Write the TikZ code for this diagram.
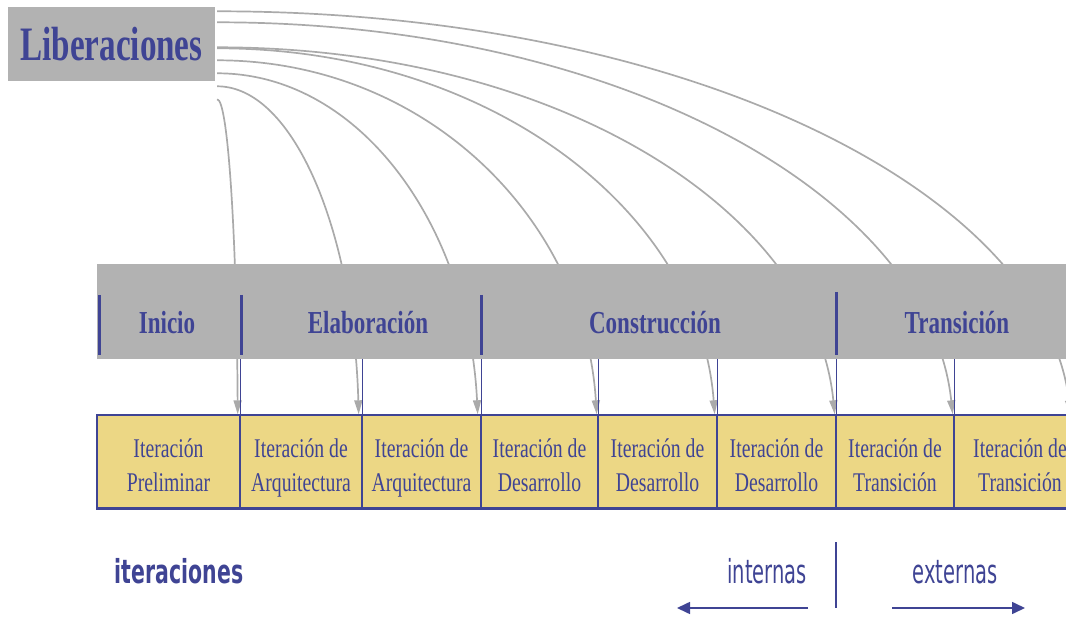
\documentclass[tikz,border=0pt]{standalone}
\usepackage{fontspec}
\usepackage{graphicx}
\setmainfont{Liberation Serif}
\newfontfamily\sansf{DejaVu Sans}
\usetikzlibrary{arrows.meta,calc}
\definecolor{cgray}{HTML}{B2B2B2}
\definecolor{cblue}{HTML}{3F4494}
\definecolor{cyel}{HTML}{ECD785}
\definecolor{cline}{HTML}{AAAAAA}
\newcommand{\nar}[2]{\scalebox{#1}[1]{#2}}
\begin{document}
\begin{tikzpicture}[x=1pt,y=-1pt,
  libbox/.style={fill=cgray, minimum width=207pt, minimum height=74pt, inner sep=0pt, text=cblue, font=\fontsize{48}{50}\selectfont\bfseries},
  phasebar/.style={fill=cgray, minimum width=983pt, minimum height=95pt, inner sep=0pt},
  phasetxt/.style={text=cblue, font=\fontsize{32}{34}\selectfont\bfseries, anchor=base, inner sep=0pt},
  itbox/.style={fill=cyel, draw=cblue, line width=1.4pt, minimum height=93pt, inner sep=0pt},
  ittxt/.style={text=cblue, font=\fontsize{27}{30}\selectfont, anchor=base, inner sep=0pt},
  rel/.style={draw=cline, line width=1.7pt, -{Triangle[length=14pt,width=8pt]}},
  thinblue/.style={draw=cblue, line width=1.3pt},
  sepline/.style={draw=cblue, line width=3pt},
  bot/.style={text=cblue, anchor=base, inner sep=0pt, font=\sansf\fontsize{33}{35}\selectfont},
  barrow/.style={draw=cblue, line width=1.6pt, -{Triangle[length=13pt,width=12pt]}}
]
\useasboundingbox (0,0) rectangle (1066,617);
\clip (0,0) rectangle (1066,617);

\node[libbox] (lib) at (111.5,44.5) {\nar{0.69}{Liberaciones}};

% iteration boxes
\node[itbox, minimum width=143pt] (b1) at (168.5,461.5) {};
\node[itbox, minimum width=122pt] (b2) at (301,461.5) {};
\node[itbox, minimum width=119pt] (b3) at (421.5,461.5) {};
\node[itbox, minimum width=117pt] (b4) at (539.5,461.5) {};
\node[itbox, minimum width=119pt] (b5) at (657.5,461.5) {};
\node[itbox, minimum width=119pt] (b6) at (776.5,461.5) {};
\node[itbox, minimum width=118pt] (b7) at (895,461.5) {};
\node[itbox, minimum width=119pt] (b8) at (1013.5,461.5) {};
\draw[cblue, line width=2.6pt] (b1.south west) -- (b8.south east);

\node[ittxt] (t1a) at (168.5,458) {\nar{0.73}{Iteración}};
\node[ittxt] (t1b) at (168.5,492) {\nar{0.73}{Preliminar}};
\node[ittxt] (t2a) at (301,458) {\nar{0.73}{Iteración de}};
\node[ittxt] (t2b) at (301,492) {\nar{0.73}{Arquitectura}};
\node[ittxt] (t3a) at (421.5,458) {\nar{0.73}{Iteración de}};
\node[ittxt] (t3b) at (421.5,492) {\nar{0.73}{Arquitectura}};
\node[ittxt] (t4a) at (539.5,458) {\nar{0.73}{Iteración de}};
\node[ittxt] (t4b) at (539.5,492) {\nar{0.73}{Desarrollo}};
\node[ittxt] (t5a) at (657.5,458) {\nar{0.73}{Iteración de}};
\node[ittxt] (t5b) at (657.5,492) {\nar{0.73}{Desarrollo}};
\node[ittxt] (t6a) at (776.5,458) {\nar{0.73}{Iteración de}};
\node[ittxt] (t6b) at (776.5,492) {\nar{0.73}{Desarrollo}};
\node[ittxt] (t7a) at (895,458) {\nar{0.73}{Iteración de}};
\node[ittxt] (t7b) at (895,492) {\nar{0.73}{Transición}};
\node[ittxt] (t8a) at (1020,458) {\nar{0.73}{Iteración de}};
\node[ittxt] (t8b) at (1020,492) {\nar{0.73}{Transición}};

% release curves (behind the phase bar)
\coordinate (s1) at ($(lib.north east)+(2,92)$);
\coordinate (s2) at ($(lib.north east)+(2,79)$);
\coordinate (s3) at ($(lib.north east)+(2,66)$);
\coordinate (s4) at ($(lib.north east)+(2,53)$);
\coordinate (s5) at ($(lib.north east)+(2,41)$);
\coordinate (s6) at ($(lib.north east)+(2,40)$);
\coordinate (s7) at ($(lib.north east)+(2,15)$);
\coordinate (s8) at ($(lib.north east)+(2,4)$);
\coordinate (e1) at ([xshift=-3pt]b1.north east);
\coordinate (e2) at ([xshift=-4pt]b2.north east);
\coordinate (e3) at ([xshift=-4pt]b3.north east);
\coordinate (e4) at ([xshift=-2pt]b4.north east);
\coordinate (e5) at ([xshift=-3pt]b5.north east);
\coordinate (e6) at ([xshift=-2pt]b6.north east);
\coordinate (e7) at ([xshift=-2pt]b7.north east);
\coordinate (e8) at ([xshift=-3pt]b8.north east);
\draw[rel] (s1) .. controls +(11,0) and +(-1,-174) .. (e1);
\draw[rel] (s2) .. controls +(77,0) and +(-5,-181) .. (e2);
\draw[rel] (s3) .. controls +(143,0) and +(-9,-188) .. (e3);
\draw[rel] (s4) .. controls +(209,0) and +(-12,-195) .. (e4);
\draw[rel] (s5) .. controls +(274,0) and +(-15,-202) .. (e5);
\draw[rel] (s6) .. controls +(341,0) and +(-20,-203) .. (e6);
\draw[rel] (s7) .. controls +(406,0) and +(-23,-216) .. (e7);
\draw[rel] (s8) .. controls +(471,0) and +(-27,-222) .. (e8);

% phase bar
\node[phasebar] (bar) at (588.5,311.5) {};
\draw[sepline] (99,295) -- (99,355);
\draw[sepline] (241,295) -- (241,355);
\draw[sepline] (481,295) -- (481,355);
\draw[sepline] (836,292) -- (836,355);
\node[phasetxt] (p1) at (167,334) {\nar{0.72}{Inicio}};
\node[phasetxt] (p2) at (368,334) {\nar{0.72}{Elaboración}};
\node[phasetxt] (p3) at (655,334) {\nar{0.72}{Construcción}};
\node[phasetxt] (p4) at (957,334) {\nar{0.72}{Transición}};

% thin links from bar to box boundaries
\foreach \i in {1,...,7} {
  \draw[thinblue] (b\i.north east) -- (b\i.north east |- bar.south);
}

% bottom legend
\node[bot, font=\sansf\bfseries\fontsize{33}{35}\selectfont] (iter) at (179,583) {\nar{0.62}{iteraciones}};
\node[bot] (int) at (767,583) {\nar{0.59}{internas}};
\node[bot] (ext) at (955,583) {\nar{0.59}{externas}};
\coordinate (la) at (808,608);
\coordinate (lb) at (677,608);
\coordinate (ra) at (892,608);
\coordinate (rb) at (1025,608);
\coordinate (d1) at (836,542);
\coordinate (d2) at (836,608);
\draw[barrow] (la) -- (lb);
\draw[barrow] (ra) -- (rb);
\draw[thinblue] (d1) -- (d2);
\end{tikzpicture}
\end{document}
